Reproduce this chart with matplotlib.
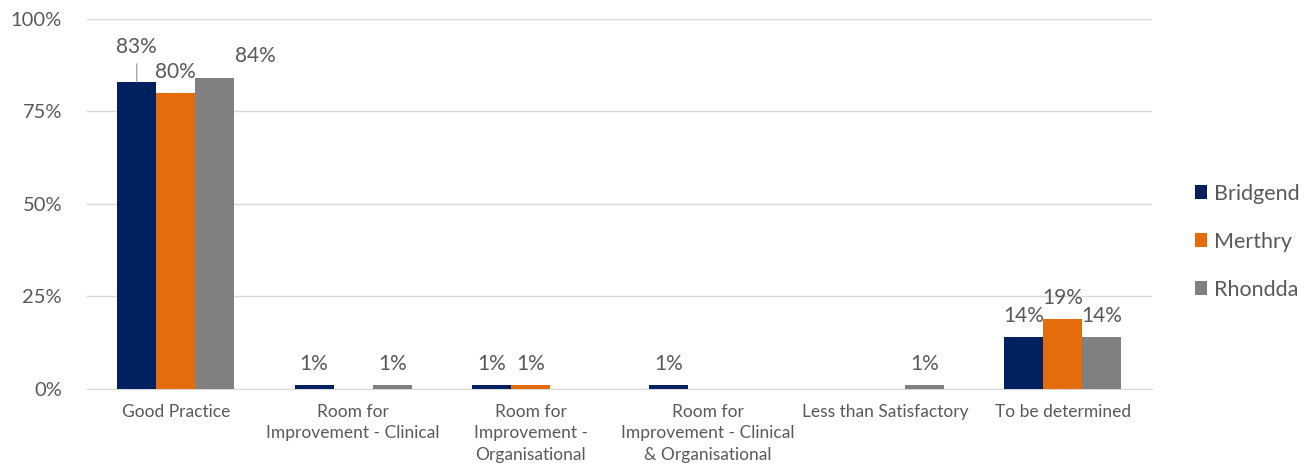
import numpy as np
import matplotlib.pyplot as plt

categories = ['Good Practice', 'Room for\nImprovement - Clinical', 'Room for\nImprovement -\nOrganisational',
              'Room for\nImprovement - Clinical\n& Organisational', 'Less than Satisfactory', 'To be determined']
series = ['Bridgend', 'Merthry', 'Rhondda']
bridgend = [83, 1, 1, 1, 0, 14]
merthry = [80, 0, 1, 0, 0, 19]
rhondda = [84, 1, 0, 0, 1, 14]

colors = ['#002060', '#E46C0A', '#808080']
text_col = '#595959'
plt.rcParams['font.family'] = ['Lato', 'DejaVu Sans']

fig = plt.figure(figsize=(13.13, 4.69), dpi=100)
ax = fig.add_axes([0.0663, 0.1706, 0.8107, 0.7889])

x = np.arange(len(categories))
w = 0.22
# label offsets in points (dx, dy); the first group is crowded
special = {(0, 0): (0, 18), (0, 2): (29, 9)}
for i, (name, vals) in enumerate(zip(series, [bridgend, merthry, rhondda])):
    pos = x + (i - 1) * w
    ax.bar(pos, vals, w, color=colors[i], label=name, zorder=3)
    for j, (p, v) in enumerate(zip(pos, vals)):
        if v == 0:
            continue
        dx, dy = special.get((j, i), (0, 8))
        arrow = None
        if (j, i) == (0, 0):
            arrow = dict(arrowstyle='-', color='#A6A6A6', lw=1, shrinkA=3, shrinkB=0)
        ax.annotate(f'{v}%', (p, v), xytext=(dx, dy), textcoords='offset points',
                    ha='center', va='bottom', fontsize=15, color=text_col,
                    arrowprops=arrow)

ax.set_ylim(0, 100)
ax.set_xlim(-0.5, len(categories) - 0.5)
ax.set_yticks([0, 25, 50, 75, 100])
ax.set_yticklabels([f'{t}%' for t in [0, 25, 50, 75, 100]], fontsize=14.5, color=text_col)
ax.set_xticks(x)
ax.set_xticklabels(categories, fontsize=12.5, color=text_col, va='top', linespacing=1.4)
ax.tick_params(axis='both', length=0)
ax.tick_params(axis='x', pad=11)
ax.tick_params(axis='y', pad=18)
ax.grid(axis='y', color='#D9D9D9', lw=1, zorder=0)
for s in ['top', 'right', 'left']:
    ax.spines[s].set_visible(False)
ax.spines['bottom'].set_color('#D9D9D9')

fig.legend(loc='center left', bbox_to_anchor=(0.895, 0.485), frameon=False, fontsize=15.5,
           handlelength=0.6, handleheight=0.6, handletextpad=0.3, labelspacing=1.3,
           labelcolor=text_col)

fig.savefig('out.png', dpi=100)
